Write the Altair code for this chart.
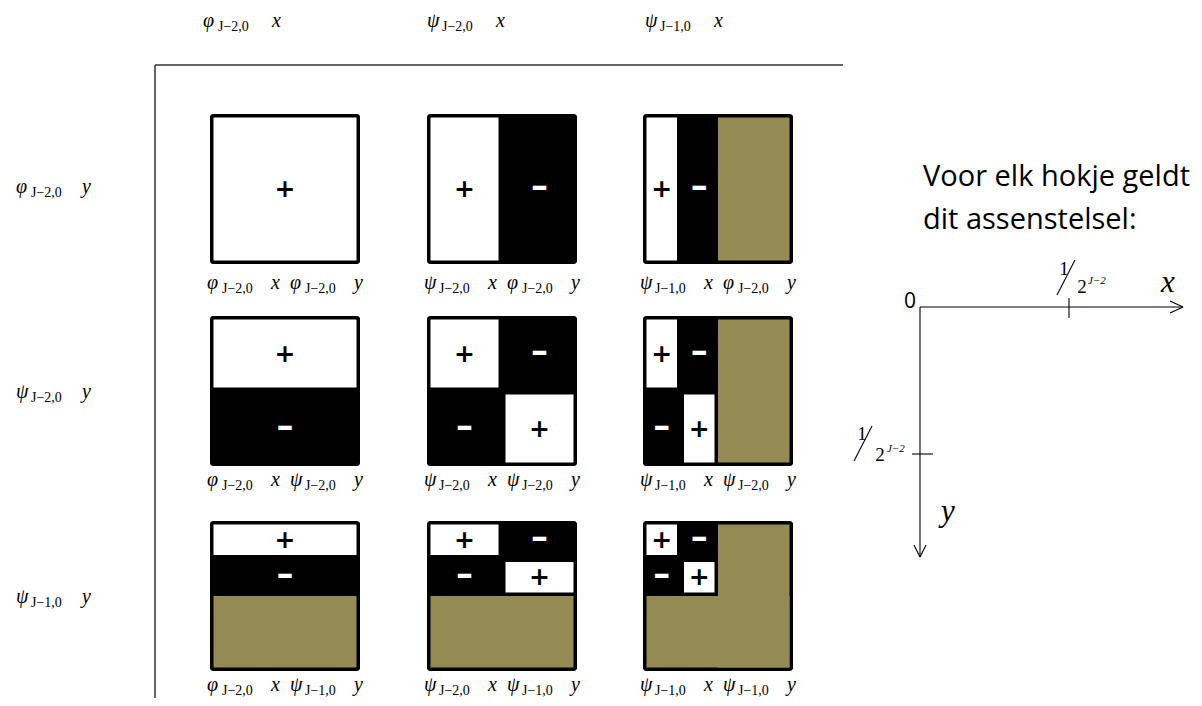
import altair as alt
import pandas as pd

# ---------------- content ----------------
x_funcs = ["φ", "ψ", "ψ"]          # columns: functions of x
x_subs = ["J−2,0", "J−2,0", "J−1,0"]
y_funcs = ["φ", "ψ", "ψ"]          # rows: functions of y
y_subs = ["J−2,0", "J−2,0", "J−1,0"]
var_x, var_y = "x", "y"

# sign pieces of each 1D function over the interval, in quarter units (a, b, sign)
pieces = [
    [(0, 4, 1)],                 # phi_{J-2,0}
    [(0, 2, 1), (2, 4, -1)],     # psi_{J-2,0}
    [(0, 1, 1), (1, 2, -1)],     # psi_{J-1,0}
]
support_end = [4, 4, 2]
sign_text = {1: "+", -1: "–"}

note_lines = ["Voor elk hokje geldt", "dit assenstelsel:"]
origin_label = "0"
tick_num, tick_den, tick_exp = "1", "2", "J−2"

OLIVE = "#948A54"

# ---------------- layout ----------------
W, H = 1186, 690
COL_X = [210, 427, 643]
ROW_Y = [114, 316, 521]
CELL = 150
INSET = 3.5
LABEL_BASE = [289, 486, 691]
TOP_X = [203, 427, 645]
LEFT_BASE = [193, 398, 603]

xs = alt.Scale(domain=[8, 8 + W], nice=False, zero=False)
ys = alt.Scale(domain=[8, 8 + H], nice=False, zero=False, reverse=True)
X = lambda f: alt.X(f, type="quantitative", scale=xs, axis=None)
Y = lambda f: alt.Y(f, type="quantitative", scale=ys, axis=None)
X2 = lambda f: alt.X2(f)
Y2 = lambda f: alt.Y2(f)


def q2px(origin, q):
    return origin + q / 4 * CELL


squares, whites, olives, plus_signs, minus_signs = [], [], [], [], []
for r in range(3):
    for c in range(3):
        ox, oy = COL_X[c], ROW_Y[r]
        squares.append(dict(x=ox, x2=ox + CELL, y=oy, y2=oy + CELL))
        for (xa, xb, sx) in pieces[c]:
            for (ya, yb, sy) in pieces[r]:
                s = sx * sy
                x1, x2 = q2px(ox, xa), q2px(ox, xb)
                y1, y2 = q2px(oy, ya), q2px(oy, yb)
                if s > 0:
                    whites.append(dict(x=x1 + INSET, x2=x2 - INSET, y=y1 + INSET, y2=y2 - INSET))
                    plus_signs.append(dict(x=(x1 + x2) / 2, y=(y1 + y2) / 2, t=sign_text[s]))
                else:
                    minus_signs.append(dict(x=(x1 + x2) / 2, y=(y1 + y2) / 2, t=sign_text[s]))
        if support_end[c] < 4:
            olives.append(dict(x=q2px(ox, support_end[c]), x2=ox + CELL - INSET,
                               y=oy + INSET, y2=oy + CELL - INSET))
        if support_end[r] < 4:
            olives.append(dict(x=ox + INSET, x2=ox + CELL - INSET,
                               y=q2px(oy, support_end[r]), y2=oy + CELL - INSET))

rect_enc = dict(x=X("x"), x2=X2("x2"), y=Y("y"), y2=Y2("y2"))
sq_layer = alt.Chart(pd.DataFrame(squares)).mark_rect(color="black", cornerRadius=3).encode(**rect_enc)
ol_layer = alt.Chart(pd.DataFrame(olives)).mark_rect(color=OLIVE).encode(**rect_enc)
wh_layer = alt.Chart(pd.DataFrame(whites)).mark_rect(color="white").encode(**rect_enc)
plus_layer = alt.Chart(pd.DataFrame(plus_signs)).mark_text(
    font="DejaVu Sans", fontSize=25, fontWeight="bold", baseline="middle", align="center", color="black"
).encode(x=X("x"), y=Y("y"), text="t:N")
minus_layer = alt.Chart(pd.DataFrame(minus_signs)).mark_text(
    font="DejaVu Sans", fontSize=34, fontWeight="bold", baseline="middle", align="center", color="white",
    dy=-2
).encode(x=X("x"), y=Y("y"), text="t:N")

# ---------------- formula labels ----------------
syms, subs, vars_ = [], [], []
for r in range(3):
    for c in range(3):
        x0 = COL_X[c] - 3
        b = LABEL_BASE[r]
        syms.append(dict(x=x0, y=b, t=x_funcs[c]))
        subs.append(dict(x=x0 + 15, y=b + 4, t=x_subs[c]))
        vars_.append(dict(x=x0 + 64, y=b, t=var_x))
        syms.append(dict(x=x0 + 83, y=b, t=y_funcs[r]))
        subs.append(dict(x=x0 + 98, y=b + 4, t=y_subs[r]))
        vars_.append(dict(x=x0 + 147, y=b, t=var_y))
for c in range(3):
    x0 = TOP_X[c]
    syms.append(dict(x=x0, y=27, t=x_funcs[c]))
    subs.append(dict(x=x0 + 15, y=31, t=x_subs[c]))
    vars_.append(dict(x=x0 + 69, y=27, t=var_x))
for r in range(3):
    x0 = 16
    b = LEFT_BASE[r]
    syms.append(dict(x=x0, y=b, t=y_funcs[r]))
    subs.append(dict(x=x0 + 15, y=b + 4, t=y_subs[r]))
    vars_.append(dict(x=x0 + 66, y=b, t=var_y))


def tlayer(rows, **kw):
    base = dict(align="left", baseline="alphabetic", color="black")
    base.update(kw)
    return alt.Chart(pd.DataFrame(rows)).mark_text(**base).encode(
        x=X("x"), y=Y("y"), text="t:N")


sym_layer = tlayer(syms, font="Liberation Serif", fontSize=20, fontStyle="italic")
sub_layer = tlayer(subs, font="Liberation Serif", fontSize=14)
var_layer = tlayer(vars_, font="Liberation Serif", fontSize=20, fontStyle="italic")

# ---------------- frame ----------------
frame = [dict(x=155, y=65, x2=843, y2=65), dict(x=155, y=65, x2=155, y2=706)]
frame_layer = alt.Chart(pd.DataFrame(frame)).mark_rule(color="#333333", strokeWidth=1.5).encode(
    x=X("x"), y=Y("y"), x2=X2("x2"), y2=Y2("y2"))

# ---------------- coordinate-system sketch ----------------
segs = [
    dict(x=920, y=307, x2=1183, y2=307),
    dict(x=1170, y=301, x2=1183, y2=307),
    dict(x=1170, y=313, x2=1183, y2=307),
    dict(x=1069, y=298, x2=1069, y2=318),
    dict(x=920, y=307, x2=920, y2=557),
    dict(x=914, y=545, x2=920, y2=557),
    dict(x=926, y=545, x2=920, y2=557),
    dict(x=912, y=454, x2=933, y2=454),
    dict(x=1057, y=295, x2=1075, y2=260),
    dict(x=854, y=461, x2=872, y2=426),
]
seg_layer = alt.Chart(pd.DataFrame(segs)).mark_rule(color="black", strokeWidth=1.1).encode(
    x=X("x"), y=Y("y"), x2=X2("x2"), y2=Y2("y2"))

note_layer = tlayer([dict(x=923, y=186, t=note_lines[0]), dict(x=923, y=229, t=note_lines[1])],
                    font="Open Sans", fontSize=29)
zero_layer = tlayer([dict(x=910, y=308, t=origin_label)], font="Open Sans", fontSize=21, align="center")
frac_layer = tlayer([dict(x=1064, y=275, t=tick_num), dict(x=1082, y=293, t=tick_den),
                     dict(x=862, y=440, t=tick_num), dict(x=880, y=461, t=tick_den)],
                    font="Liberation Serif", fontSize=19, align="center")
exp_layer = tlayer([dict(x=1088, y=284, t=tick_exp), dict(x=887, y=452, t=tick_exp)],
                   font="Liberation Serif", fontSize=11, fontStyle="italic")
axname_layer = tlayer([dict(x=1161, y=292, t=var_x), dict(x=941, y=521, t=var_y)],
                      font="Liberation Serif", fontSize=31, fontStyle="italic")

chart = alt.layer(
    frame_layer, sq_layer, ol_layer, wh_layer, plus_layer, minus_layer,
    sym_layer, sub_layer, var_layer,
    seg_layer, note_layer, zero_layer, frac_layer, exp_layer, axname_layer,
).properties(
    width=W, height=H, padding=0, autosize=alt.AutoSizeParams(type="none")
).configure_view(stroke=None)

chart.save("out.html", embed_options={"renderer": "svg", "actions": False})
